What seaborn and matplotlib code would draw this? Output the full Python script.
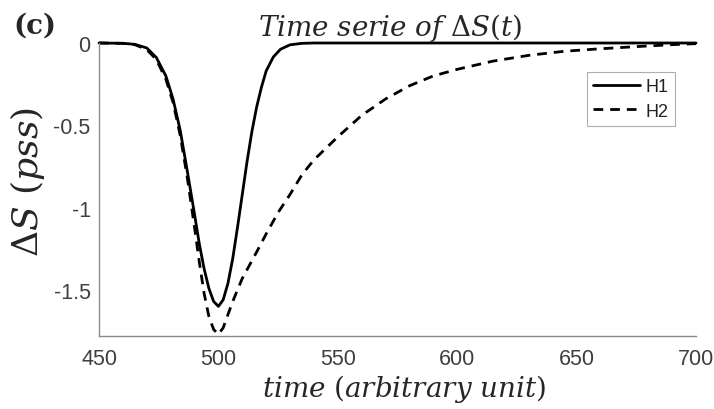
import matplotlib
matplotlib.use("Agg")
import matplotlib.pyplot as plt
import seaborn as sns
import pandas as pd

# ---- data ----
t_h1 = [450, 460, 465, 470, 474, 478, 481, 484, 487, 490, 492, 494, 496, 498, 500,
        502, 504, 506, 508, 510, 512, 514, 516, 518, 520, 523, 526, 530, 535, 540, 600, 700]
h1 = [0.0, -0.002, -0.008, -0.03, -0.088, -0.20, -0.34, -0.53, -0.78, -1.04, -1.22, -1.37,
      -1.49, -1.57, -1.60, -1.56, -1.46, -1.31, -1.12, -0.92, -0.72, -0.54, -0.39, -0.27,
      -0.17, -0.085, -0.038, -0.011, -0.002, 0.0, 0.0, 0.0]

t_h2 = [450, 460, 465, 470, 474, 478, 481, 484, 487, 490, 492, 494, 496, 498, 500,
        502, 504, 506, 508, 510, 513, 516, 520, 525, 530, 535, 540, 545, 550, 560, 570,
        580, 590, 600, 615, 630, 645, 660, 675, 690, 700]
h2 = [0.0, -0.002, -0.01, -0.04, -0.10, -0.22, -0.36, -0.56, -0.82, -1.12, -1.33, -1.52,
      -1.66, -1.74, -1.77, -1.73, -1.65, -1.57, -1.50, -1.43, -1.35, -1.27, -1.16, -1.03,
      -0.92, -0.80, -0.71, -0.64, -0.57, -0.44, -0.34, -0.26, -0.20, -0.16, -0.11, -0.075,
      -0.05, -0.035, -0.022, -0.01, -0.004]

x_ticks = [450, 500, 550, 600, 650, 700]
y_ticks = [-1.5, -1.0, -0.5, 0.0]
y_tick_labels = ["-1.5", "-1", "-0.5", "0"]

df = pd.concat([
    pd.DataFrame({"time": t_h1, "dS": h1, "series": "H1"}),
    pd.DataFrame({"time": t_h2, "dS": h2, "series": "H2"}),
], ignore_index=True)

sns.set_style("white")
plt.rcParams["font.family"] = ["Liberation Sans", "DejaVu Sans"]
plt.rcParams["mathtext.fontset"] = "dejavuserif"

fig = plt.figure(figsize=(7.14, 4.10), dpi=100)
ax = fig.add_axes([99 / 714, 1 - 337 / 410, (696 - 99) / 714, (337 - 44) / 410])

sns.lineplot(data=df, x="time", y="dS", hue="series", style="series",
             palette={"H1": "black", "H2": "black"},
             dashes={"H1": "", "H2": (3.5, 2.5)},
             linewidth=2.0, ax=ax, sort=False, estimator=None)
for ln in ax.lines:
    ln.set_clip_on(False)

ax.set_xlim(450, 700)
ax.set_ylim(-1.78, 0)
ax.set_xticks(x_ticks)
ax.set_xticklabels([str(v) for v in x_ticks])
ax.set_yticks(y_ticks)
ax.set_yticklabels(y_tick_labels)

for s in ["top", "right"]:
    ax.spines[s].set_visible(False)
for s in ["left", "bottom"]:
    ax.spines[s].set_color("#8a8a8a")
    ax.spines[s].set_linewidth(1.0)
ax.tick_params(axis="both", direction="in", length=3, width=0.8, color="#8a8a8a",
               labelsize=15.5, labelcolor="#404040", pad=6)
ax.tick_params(axis="x", pad=9)

W = 696 - 99
H = 337 - 44
ax.set_xlabel(r"$time\ (arbitrary\ unit)$", fontsize=20)
ax.xaxis.set_label_coords((404 - 99) / W, -(397 - 337) / H)
ax.xaxis.label.set_va("baseline")
ax.set_ylabel(r"$\Delta S\ (pss)$", fontsize=26)
ax.yaxis.set_label_coords(-(99 - 47) / W, (337 - 182) / H)

fig.text(390 / 714, 1 - 36 / 410, r"$Time\ serie\ of\ \Delta S(t)$", fontsize=20,
         ha="center", va="baseline")
fig.text(13 / 714, 1 - 34 / 410, "(c)", fontsize=20, fontweight="bold",
         family=["DejaVu Serif"], ha="left", va="baseline")

leg = ax.legend(loc="upper right", bbox_to_anchor=(675 / 714, 1 - 73 / 410),
                bbox_transform=fig.transFigure, frameon=True, fancybox=False,
                fontsize=13, handlelength=2.6, borderpad=0.35, labelspacing=0.4,
                handletextpad=0.3, borderaxespad=0)
leg.get_frame().set_edgecolor("#9a9a9a")
leg.get_frame().set_linewidth(0.8)
for t in leg.get_texts():
    t.set_color("#222222")

fig.savefig("out.png", dpi=100)
